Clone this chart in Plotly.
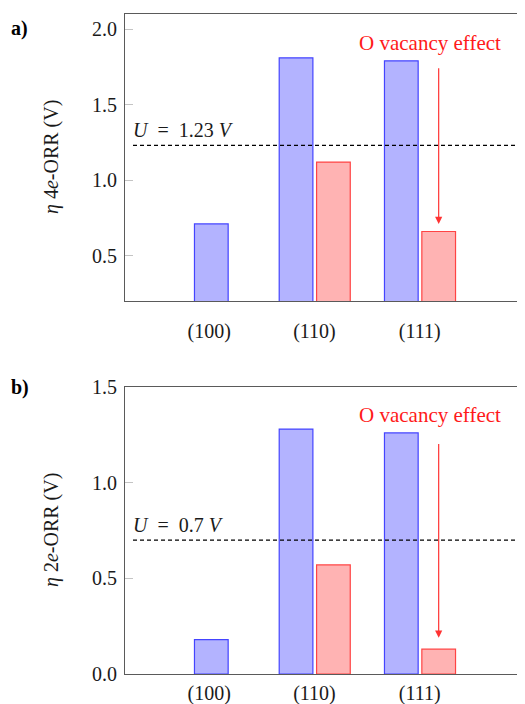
import plotly.graph_objects as go

categories = ["(100)", "(110)", "(111)"]
cat_index = [0, 1, 2]

# 4e-ORR overpotentials (V)
orr4_pristine = [0.71, 1.81, 1.79]
orr4_vacancy_idx = [1, 2]
orr4_vacancy = [1.12, 0.66]
u4 = 1.23

# 2e-ORR overpotentials (V)
orr2_pristine = [0.18, 1.28, 1.26]
orr2_vacancy_idx = [1, 2]
orr2_vacancy = [0.57, 0.13]
u2 = 0.7

BLUE_FILL = "#b3b3ff"
BLUE_EDGE = "#4444ff"
RED_FILL = "#ffb3b3"
RED_EDGE = "#ff4444"
FONT = "Liberation Serif, Times New Roman, serif"

W, H = 525, 704
OFF = 8  # page body margin


def px(x):
    return (x - OFF) / W


def py(y):
    return (H - (y - OFF)) / H


xdom = [px(125), px(525)]
top_dom = [py(301), py(14)]
bot_dom = [py(674), py(387)]

bar_w = 0.32
blue_off = [-0.14, -0.335, -0.335]
red_off = [0.02, 0.02]

fig = go.Figure()


def add_panel(xa, ya, pristine, vac_idx, vac):
    fig.add_trace(go.Bar(x=cat_index, y=pristine, width=bar_w, offset=blue_off,
                         marker=dict(color=BLUE_FILL, line=dict(color=BLUE_EDGE, width=1.2)),
                         xaxis=xa, yaxis=ya, showlegend=False, base=0, hoverinfo="skip"))
    fig.add_trace(go.Bar(x=vac_idx, y=vac, width=bar_w, offset=red_off,
                         marker=dict(color=RED_FILL, line=dict(color=RED_EDGE, width=1.2)),
                         xaxis=xa, yaxis=ya, showlegend=False, base=0, hoverinfo="skip"))


add_panel("x", "y", orr4_pristine, orr4_vacancy_idx, orr4_vacancy)
add_panel("x2", "y2", orr2_pristine, orr2_vacancy_idx, orr2_vacancy)
# empty traces to activate right-side tick axes
fig.add_trace(go.Scatter(x=[], y=[], xaxis="x", yaxis="y3", showlegend=False))
fig.add_trace(go.Scatter(x=[], y=[], xaxis="x2", yaxis="y4", showlegend=False))

axline = "#5a5a5a"
tickc = "#c4c4c4"
TXT = "#1a1a1a"
tfont = dict(family=FONT, size=20, color=TXT)

xcommon = dict(range=[-0.8, 3.0], domain=xdom, tickmode="array", tickvals=cat_index,
               ticktext=categories, showline=True, linecolor=axline, linewidth=1.2,
               mirror=True, ticks="", showgrid=False, zeroline=False, tickfont=tfont,
               automargin=False, fixedrange=True)
ycommon = dict(showline=True, linecolor=axline, linewidth=1.2, ticks="inside",
               ticklen=8, tickcolor=tickc, tickwidth=1, showgrid=False, zeroline=False,
               tickfont=tfont, automargin=False, fixedrange=True, tickformat=".1f",
               ticklabelstandoff=3)

fig.update_layout(
    width=W, height=H, margin=dict(l=0, r=0, t=0, b=0),
    paper_bgcolor="white", plot_bgcolor="white", barmode="overlay",
    font=dict(family=FONT, color=TXT),
    xaxis=dict(**xcommon, anchor="y", ticklabelstandoff=12),
    yaxis=dict(**ycommon, domain=top_dom, range=[0.2, 2.1], anchor="x",
               tickvals=[0.5, 1.0, 1.5, 2.0]),
    xaxis2=dict(**xcommon, anchor="y2", ticklabelstandoff=1),
    yaxis2=dict(**ycommon, domain=bot_dom, range=[0, 1.5], anchor="x2",
                tickvals=[0.0, 0.5, 1.0, 1.5]),
    yaxis3=dict(overlaying="y", side="right", anchor="x", range=[0.2, 2.1], showline=False,
                ticks="inside", ticklen=8, tickcolor=tickc, tickvals=[0.5, 1.0, 1.5, 2.0],
                showticklabels=False, showgrid=False, zeroline=False, fixedrange=True),
    yaxis4=dict(overlaying="y2", side="right", anchor="x2", range=[0, 1.5], showline=False,
                ticks="inside", ticklen=8, tickcolor=tickc, tickvals=[0.0, 0.5, 1.0, 1.5],
                showticklabels=False, showgrid=False, zeroline=False, fixedrange=True),
)

# Threshold lines
for ya, u in [("y", u4), ("y2", u2)]:
    fig.add_shape(type="line", xref="paper", yref=ya, x0=px(133), x1=px(530), y0=u, y1=u,
                  line=dict(color="black", width=1.3, dash="4px,3px"))

ann = []
# panel labels
for lbl, yc in [("a)", 29), ("b)", 387)]:
    ann.append(dict(text=f"<b>{lbl}</b>", xref="paper", yref="paper", x=px(9), y=py(yc),
                    xanchor="left", yanchor="middle", showarrow=False,
                    font=dict(family=FONT, size=20, color="black")))
# y-axis titles
for ttl, yc in [("<i>η</i> 4<i>e</i>-ORR (V)", 157), ("<i>η</i> 2<i>e</i>-ORR (V)", 530)]:
    ann.append(dict(text=ttl, xref="paper", yref="paper", x=px(51), y=py(yc),
                    xanchor="center", yanchor="middle", textangle=-90, showarrow=False,
                    font=dict(family=FONT, size=20, color=TXT)))
# U labels
for ya, u in [("y", u4), ("y2", u2)]:
    ann.append(dict(text=f"<i>U</i>&nbsp;&nbsp;=&nbsp;&nbsp;{u}&nbsp;<i>V</i>", xref="paper", yref=ya,
                    x=px(131), y=u, xanchor="left", yanchor="bottom", yshift=2, showarrow=False,
                    font=dict(family=FONT, size=20, color=TXT)))
# O vacancy effect text + arrows
for xa, ya, ty, tip, tail in [("x", "y", 1.905, 0.71, 1.75), ("x2", "y2", 1.354, 0.19, 1.21)]:
    ann.append(dict(text="O vacancy effect", xref=xa, yref=ya, x=2.1, y=ty,
                    xanchor="center", yanchor="middle", showarrow=False,
                    font=dict(family=FONT, size=21, color="#ff1a1a")))
    ann.append(dict(text="", xref=xa, yref=ya, x=2.18, y=tip, axref=xa, ayref=ya,
                    ax=2.18, ay=tail, showarrow=True, arrowhead=2, arrowsize=1.2,
                    arrowwidth=1.2, arrowcolor="#ff3333"))
fig.update_layout(annotations=ann)

fig.write_html("out.html")
